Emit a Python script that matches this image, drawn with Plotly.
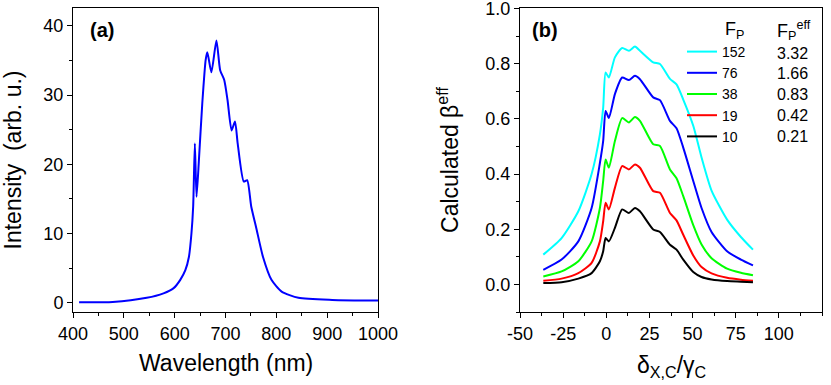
import plotly.graph_objects as go

# (a) emission spectrum
wavelength = [412, 478, 545, 578, 598, 611, 621, 628, 633, 636.4, 639.7, 643, 647.7,
              654.3, 661, 664.3, 672.2, 682.2, 689.5, 697.5, 704, 712, 718.7, 724,
              736, 742.6, 750.6, 760.5, 773.8, 790.4, 810.4, 843.5, 910, 1000]
intensity = [0.05, 0.1, 0.7, 1.35, 2.1, 3.3, 4.7, 6.6, 10.0, 13.9, 23.0, 15.3, 20.6,
             28.8, 35.1, 36.2, 33.3, 37.9, 33.6, 32.2, 29.3, 24.9, 26.2, 23.0,
             17.5, 17.7, 13.9, 10.8, 6.6, 3.3, 1.6, 0.7, 0.4, 0.3]

# (b) calculated beta_eff vs detuning
detuning = [-36.5, -25.9, -16.2, -8.5, -3.7, -1.8, -0.4, 1.5, 5, 9.2, 13.1, 16.6,
            19.5, 27.2, 31.1, 36.9, 40.7, 44.6, 50.4, 55.2, 61, 70, 78, 85]
beta_152 = [0.108, 0.168, 0.265, 0.40, 0.544, 0.641, 0.768, 0.75, 0.823, 0.857, 0.847, 0.862,
            0.847, 0.805, 0.799, 0.745, 0.725, 0.67, 0.575, 0.46, 0.34, 0.235, 0.172, 0.126]
beta_76 = [0.053, 0.09, 0.156, 0.277, 0.44, 0.52, 0.629, 0.603, 0.69, 0.75, 0.741, 0.756,
           0.744, 0.678, 0.668, 0.593, 0.566, 0.496, 0.375, 0.277, 0.19, 0.12, 0.09, 0.069]
beta_38 = [0.029, 0.047, 0.084, 0.156, 0.277, 0.375, 0.453, 0.423, 0.52, 0.603, 0.587, 0.607,
           0.593, 0.508, 0.502, 0.417, 0.385, 0.32, 0.215, 0.145, 0.095, 0.057, 0.042, 0.033]
beta_19 = [0.013, 0.021, 0.041, 0.078, 0.156, 0.229, 0.296, 0.272, 0.35, 0.429, 0.417, 0.435,
           0.423, 0.338, 0.332, 0.259, 0.232, 0.18, 0.105, 0.063, 0.04, 0.024, 0.017, 0.013]
beta_10 = [0.005, 0.008, 0.021, 0.041, 0.084, 0.12, 0.168, 0.156, 0.205, 0.272, 0.259, 0.277,
           0.265, 0.199, 0.19, 0.144, 0.126, 0.09, 0.045, 0.027, 0.018, 0.012, 0.01, 0.008]

fp_labels = ["152", "76", "38", "19", "10"]
fp_eff = ["3.32", "1.66", "0.83", "0.42", "0.21"]
colors = ["#00ffff", "#0000ff", "#00ff00", "#ff0000", "#000000"]

b_tickvals = [-50, -25, 0, 25, 50, 75, 100]
b_ticktext = ["-50", "-25", "0", "25", "50", "75", "100"]

FONT = "Liberation Sans, Arial, sans-serif"
W, H = 831, 385
TOP, BOT = 8, 73
PLOT_H = H - TOP - BOT


def px(p):
    # page column -> paper x
    return p / W


def py(p):
    # page row -> paper y
    return 1 - (p - TOP) / PLOT_H


fig = go.Figure()

fig.add_trace(go.Scatter(x=wavelength, y=intensity, mode="lines",
                         line=dict(color="#0000ff", width=2, shape="spline", smoothing=0.6),
                         showlegend=False, xaxis="x", yaxis="y"))

for vals, lab, col in zip([beta_152, beta_76, beta_38, beta_19, beta_10], fp_labels, colors):
    fig.add_trace(go.Scatter(x=detuning, y=vals, mode="lines", name=lab,
                             line=dict(color=col, width=2, shape="spline", smoothing=0.6),
                             xaxis="x2", yaxis="y2"))

axis_common = dict(showline=True, mirror=True, linecolor="black", linewidth=1,
                   ticks="outside", ticklen=5, tickcolor="black", showgrid=False,
                   zeroline=False, automargin=False, ticklabeloverflow="allow",
                   tickfont=dict(size=18, color="black", family=FONT))

fig.update_layout(
    width=W, height=H,
    margin=dict(l=0, r=0, t=TOP, b=BOT),
    paper_bgcolor="white", plot_bgcolor="white",
    font=dict(family=FONT, color="black"),
    xaxis=dict(domain=[px(73), px(378)], range=[400, 1000], dtick=100,
               minor=dict(ticks="outside", ticklen=3, dtick=50, tickcolor="black"),
               anchor="y", **axis_common),
    yaxis=dict(domain=[0, 1], range=[-1.35, 42.6], dtick=10,
               minor=dict(ticks="outside", ticklen=3, dtick=5, tickcolor="black"),
               title=dict(text="Intensity  (arb. u.)", font=dict(size=23), standoff=18),
               anchor="x", **axis_common),
    xaxis2=dict(domain=[px(520), px(822)], range=[-50, 125],
                tickvals=b_tickvals, ticktext=b_ticktext,
                minor=dict(ticks="outside", ticklen=3, dtick=12.5, tickcolor="black"),
                anchor="y2", **axis_common),
    yaxis2=dict(domain=[0, 1], range=[-0.1, 1.002], dtick=0.2, tickformat=".1f",
                minor=dict(ticks="outside", ticklen=3, dtick=0.1, tickcolor="black"),
                title=dict(text="Calculated β<sup>eff</sup>", font=dict(size=23), standoff=20),
                anchor="x2", **axis_common),
    legend=dict(x=px(682), y=py(36), xanchor="left", yanchor="top",
                bgcolor="rgba(0,0,0,0)", borderwidth=0, tracegroupgap=0,
                font=dict(size=14, color="black", family=FONT), itemwidth=30),
)

annotations = [
    dict(text="Wavelength (nm)", x=px(226), y=py(363), xref="paper", yref="paper",
         xanchor="center", yanchor="middle", showarrow=False, font=dict(size=23)),
    dict(text="δ<sub>X,C</sub>/γ<sub>C</sub>", x=px(672), y=py(366), xref="paper",
         yref="paper", xanchor="center", yanchor="middle", showarrow=False,
         font=dict(size=23)),
    dict(text="<b>(a)</b>", x=px(88), y=py(30), xref="paper", yref="paper",
         xanchor="left", yanchor="middle", showarrow=False, font=dict(size=20)),
    dict(text="<b>(b)</b>", x=px(530), y=py(30), xref="paper", yref="paper",
         xanchor="left", yanchor="middle", showarrow=False, font=dict(size=20)),
    dict(text="F<sub>P</sub>", x=px(723), y=py(30), xref="paper", yref="paper",
         xanchor="left", yanchor="middle", showarrow=False, font=dict(size=18)),
    dict(text="F<sub>P</sub><sup>eff</sup>", x=px(775), y=py(30), xref="paper",
         yref="paper", xanchor="left", yanchor="middle", showarrow=False, font=dict(size=18)),
]
for i, v in enumerate(fp_eff):
    annotations.append(dict(text=v, x=px(775), y=py(53 + i * 20.8),
                            xref="paper", yref="paper", xanchor="left", yanchor="middle",
                            showarrow=False, font=dict(size=16)))
fig.update_layout(annotations=annotations)

# drop the default body margin so the figure fills the window exactly
fig.write_html("out.html", config={"displayModeBar": False},
               post_script="document.body.style.margin='0';")
